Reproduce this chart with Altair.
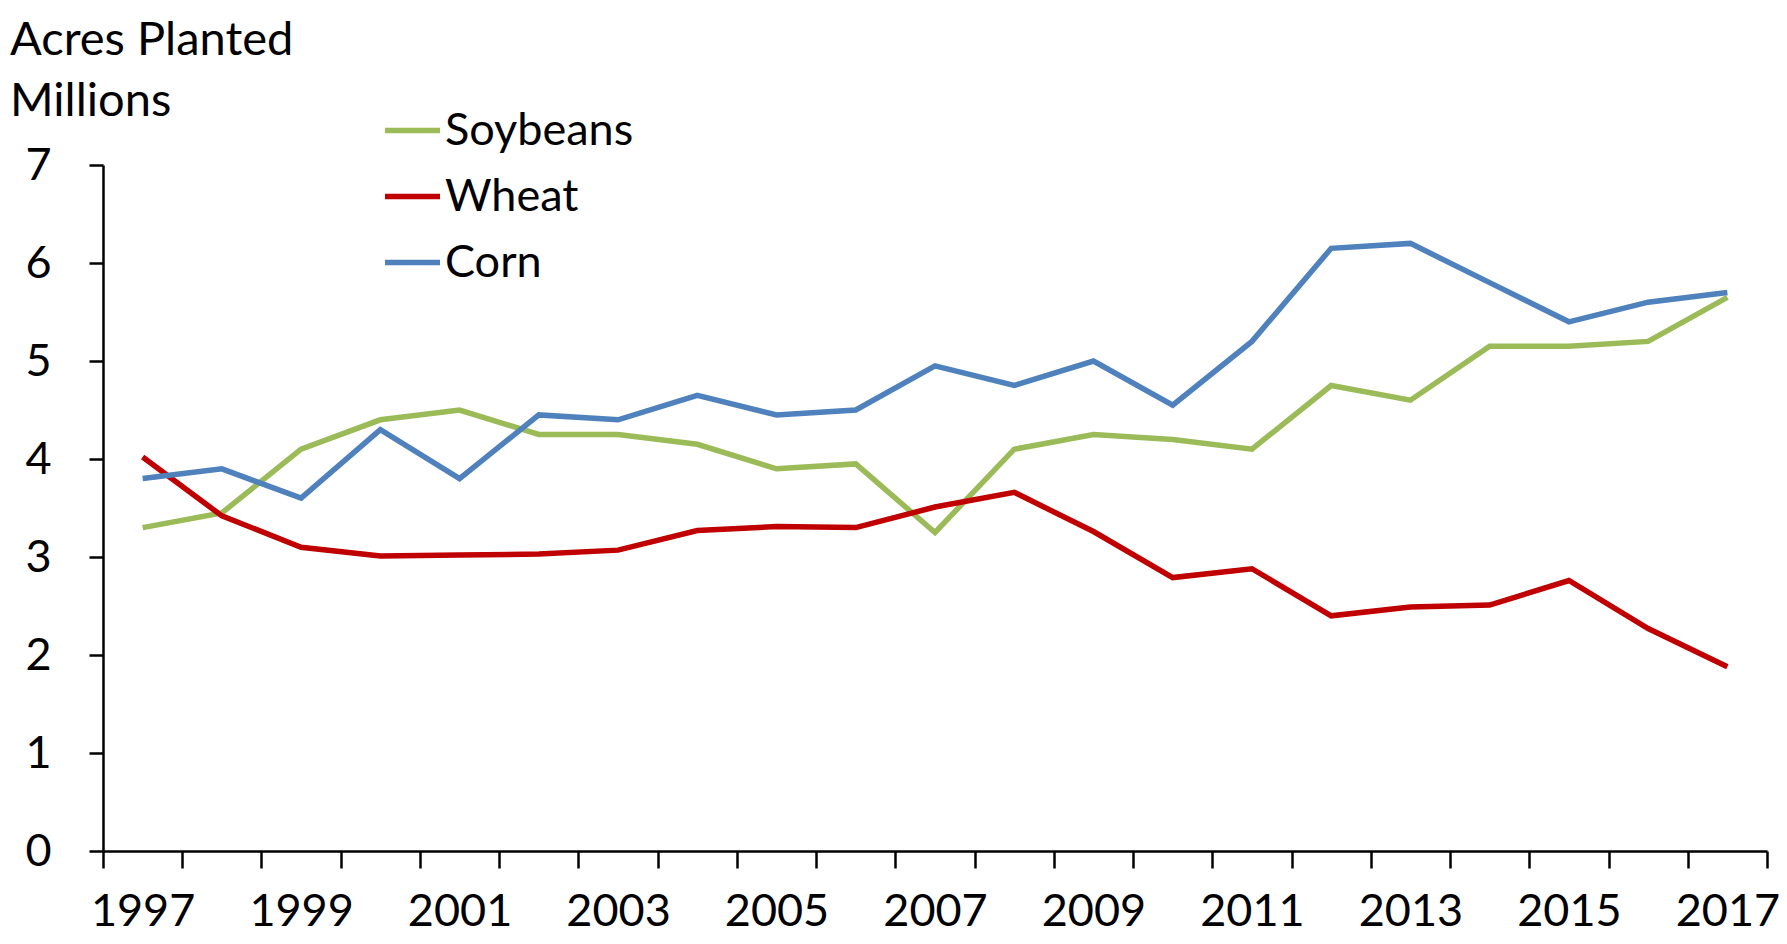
import altair as alt
import pandas as pd

years = list(range(1997, 2018))
soybeans = [3.3, 3.45, 4.1, 4.4, 4.5, 4.25, 4.25, 4.15, 3.9, 3.95, 3.25,
            4.1, 4.25, 4.2, 4.1, 4.75, 4.6, 5.15, 5.15, 5.2, 5.65]
wheat = [4.02, 3.42, 3.1, 3.01, 3.02, 3.03, 3.07, 3.27, 3.31, 3.3, 3.51,
         3.66, 3.26, 2.79, 2.88, 2.4, 2.49, 2.51, 2.76, 2.27, 1.88]
corn = [3.8, 3.9, 3.6, 4.3, 3.8, 4.45, 4.4, 4.65, 4.45, 4.5, 4.95,
        4.75, 5.0, 4.55, 5.2, 6.15, 6.2, 5.8, 5.4, 5.6, 5.7]

series_names = ["Soybeans", "Wheat", "Corn"]
series_colors = ["#9BBB59", "#C00000", "#4F81BD"]

rows = []
for name, vals in zip(series_names, [soybeans, wheat, corn]):
    for y, v in zip(years, vals):
        rows.append({"Year": y, "Acres": v, "Crop": name})
df = pd.DataFrame(rows)

FONT = "Lato"
FS = 45

chart = alt.Chart(df).mark_line(strokeWidth=5.5, strokeJoin="miter").encode(
    x=alt.X(
        "Year:O",
        scale=alt.Scale(type="band", paddingInner=0, paddingOuter=0),
        axis=alt.Axis(
            title=None,
            labelAngle=0,
            tickBand="extent",
            labelExpr="datum.value % 2 == 1 ? datum.label : ''",
            labelFont=FONT,
            labelFontSize=FS,
            labelColor="black",
            labelPadding=21,
            tickSize=17,
            tickWidth=2.5,
            tickColor="black",
            domainColor="black",
            domainWidth=2.5,
            grid=False,
        ),
    ),
    y=alt.Y(
        "Acres:Q",
        scale=alt.Scale(domain=[0, 7], nice=False),
        axis=alt.Axis(
            title=None,
            values=[0, 1, 2, 3, 4, 5, 6, 7],
            labelFont=FONT,
            labelFontSize=FS,
            labelColor="black",
            labelPadding=38,
            tickSize=14,
            tickWidth=2.5,
            tickColor="black",
            domainColor="black",
            domainWidth=2.5,
            grid=False,
        ),
    ),
    color=alt.Color(
        "Crop:N",
        scale=alt.Scale(domain=series_names, range=series_colors),
        sort=series_names,
        legend=alt.Legend(
            title=None,
            orient="none",
            legendX=279,
            legendY=-65,
            symbolType="stroke",
            symbolSize=3025,
            symbolStrokeWidth=5.5,
            labelFont=FONT,
            labelFontSize=FS,
            labelColor="black",
            labelOffset=2,
            rowPadding=12,
            labelLimit=400,
        ),
    ),
).properties(
    width=1664,
    height=686,
    title=alt.TitleParams(
        text=["Acres Planted", "Millions"],
        font=FONT,
        fontSize=47,
        fontWeight="normal",
        color="black",
        anchor="start",
        frame="group",
        dx=-93,
        lineHeight=61,
        offset=-26,
    ),
    autosize=alt.AutoSizeParams(type="none"),
    padding={"left": 95, "top": 157, "right": 12, "bottom": 85},
).configure_view(stroke=None)

chart.save("out.html", embed_options={"renderer": "svg", "actions": False})
